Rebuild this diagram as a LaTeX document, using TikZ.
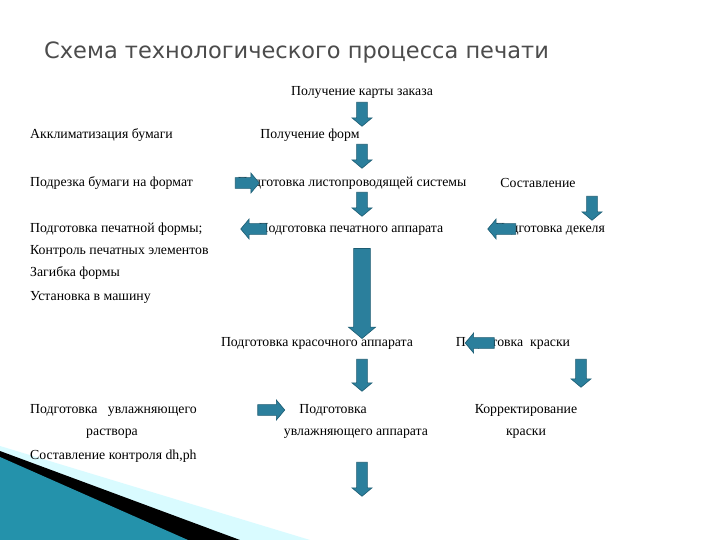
\documentclass[tikz,border=0pt]{standalone}
\usepackage{fontspec}
\setmainfont{Liberation Serif}
\newfontfamily\titlefont{DejaVu Sans}
\usetikzlibrary{shapes.arrows}
\definecolor{teal1}{HTML}{2B7F9C}
\definecolor{teal2}{HTML}{1C5C72}
\tikzset{
  lbl/.style={inner sep=0pt,font=\fontsize{13.8}{16}\selectfont},
  L/.style={lbl,anchor=west},
  blk/.style={single arrow,fill=teal1,draw=teal2,line width=0.6pt,inner sep=5pt,
     single arrow head extend=4.5pt,minimum width=20pt,single arrow tip angle=100},
  dn/.style={blk,rotate=-90},
  lt/.style={blk,rotate=180},
  rt/.style={blk}
}
\begin{document}
\begin{tikzpicture}[x=1pt,y=-1pt]
\useasboundingbox (0,0) rectangle (720,540);
\fill[white] (0,0) rectangle (720,540);
% decoration
\fill[blue!10!cyan!15] (0,446) -- (310,540) -- (0,540) -- cycle;
\fill[black] (0,451) -- (240,540) -- (0,540) -- cycle;
\fill[teal1!85!cyan] (0,457) -- (188,540) -- (0,540) -- cycle;
% title
\node[anchor=west,inner sep=0pt,text=black!70,font=\titlefont\fontsize{22.5}{26}\selectfont] (title) at (44,52) {Схема технологического процесса печати};
% texts
\node[lbl] (t1) at (362,92) {Получение карты заказа};
\node[L] (a1) at (30,135) {Акклиматизация бумаги};
\node[lbl] (t2) at (310,135) {Получение форм};
\node[L] (a2) at (30,183) {Подрезка бумаги на формат};
\node[lbl] (t3) at (352,183) {Подготовка листопроводящей системы};
\node[lbl] (s1) at (538,183) {Составление};
\node[L] (a3) at (30,229) {Подготовка печатной формы;};
\node[lbl] (t4) at (351,229) {Подготовка печатного аппарата};
\node[lbl] (s2) at (550,229) {Подготовка декеля};
\node[L] (a4) at (30,251) {Контроль печатных элементов};
\node[L] (a5) at (30,273) {Загибка формы};
\node[L] (a6) at (30,297) {Установка в машину};
\node[lbl] (t5) at (317,343) {Подготовка красочного аппарата};
\node[lbl] (s3) at (513,343) {Подготовка\ \ краски};
\node[L] (b1) at (30,410) {Подготовка\ \ \ увлажняющего};
\node[lbl] (b2) at (112,434) {раствора};
\node[L] (b3) at (30,456) {Составление контроля dh,ph};
\node[lbl] (t6) at (333,410) {Подготовка};
\node[lbl] (t7) at (356,434) {увлажняющего аппарата};
\node[lbl] (s4) at (526,410) {Корректирование};
\node[lbl] (s5) at (526,434) {краски};
% block arrows
\node[dn,minimum height=24pt] (d1) at (362,112) {};
\node[dn,minimum height=24pt] (d2) at (362,154) {};
\node[rt,minimum height=24pt] (r1) at (245,183) {};
\node[dn,minimum height=24pt] (d3) at (362,202) {};
\node[lt,minimum height=26pt] (l1) at (256,229) {};
\node[dn,minimum height=24pt] (d4) at (592,206) {};
\node[lt,minimum height=28pt] (l2) at (504,229) {};
\node[dn,minimum height=90pt,inner sep=7pt,minimum width=27pt] (d5) at (362,290) {};
\node[dn,minimum height=32pt] (d6) at (362,373) {};
\node[lt,minimum height=29pt] (l3) at (482,343) {};
\node[dn,minimum height=28pt] (d7) at (581,371) {};
\node[rt,minimum height=27pt] (r2) at (269,410) {};
\node[dn,minimum height=34pt] (d8) at (362,477) {};
\end{tikzpicture}
\end{document}
